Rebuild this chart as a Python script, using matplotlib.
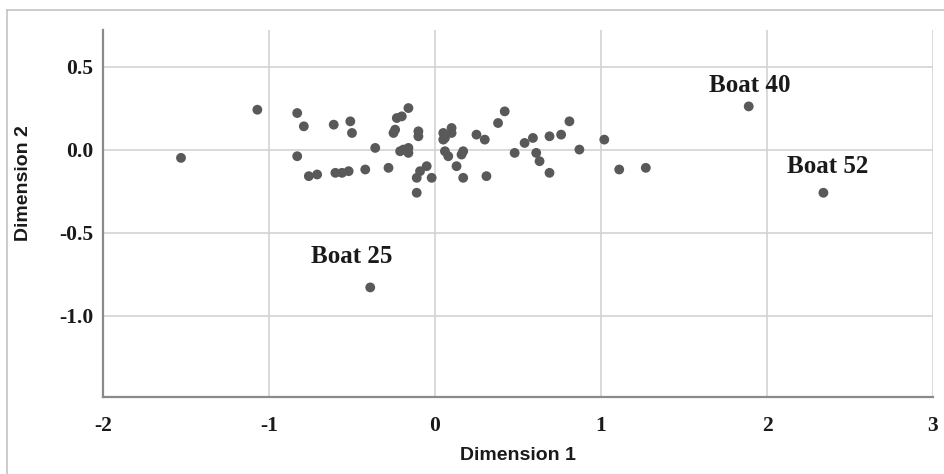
import matplotlib
matplotlib.use("Agg")
import matplotlib.pyplot as plt
from matplotlib.lines import Line2D

# coordinates
dim1 = [-1.53, -1.07, -0.83, -0.79, -0.83, -0.76, -0.71, -0.60, -0.56, -0.52,
        -0.42, -0.28, -0.61, -0.51, -0.50, -0.36, -0.23, -0.20, -0.24, -0.25,
        -0.16, -0.10, -0.10, -0.19, -0.16, -0.16, -0.21, -0.11, -0.11, -0.09,
        -0.05, -0.02, 0.05, 0.06, 0.10, 0.10, 0.05, 0.06, 0.08, 0.13,
        0.16, 0.17, 0.17, 0.25, 0.30, 0.31, 0.38, 0.42, 0.48, 0.54,
        0.59, 0.61, 0.63, 0.69, 0.69, 0.76, 0.81, 0.87, 1.02, 1.11,
        1.27, 1.89, 2.34, -0.39]
dim2 = [-0.05, 0.24, 0.22, 0.14, -0.04, -0.16, -0.15, -0.14, -0.14, -0.13,
        -0.12, -0.11, 0.15, 0.17, 0.10, 0.01, 0.19, 0.20, 0.12, 0.10,
        0.25, 0.11, 0.08, 0.00, 0.01, -0.02, -0.01, -0.26, -0.17, -0.13,
        -0.10, -0.17, 0.10, 0.07, 0.13, 0.10, 0.06, -0.01, -0.04, -0.10,
        -0.03, -0.01, -0.17, 0.09, 0.06, -0.16, 0.16, 0.23, -0.02, 0.04,
        0.07, -0.02, -0.07, -0.14, 0.08, 0.09, 0.17, 0.00, 0.06, -0.12,
        -0.11, 0.26, -0.26, -0.83]

labels = {"Boat 40": (1.89, 0.26), "Boat 52": (2.34, -0.26), "Boat 25": (-0.39, -0.83)}
label_offsets = {"Boat 40": (1, 15), "Boat 52": (3, 19), "Boat 25": (-13, 22)}

xticks = [-2, -1, 0, 1, 2, 3]
yticks = [-1.0, -0.5, 0.0, 0.5]

fig = plt.figure(figsize=(9.44, 4.74), dpi=100)
ax = fig.add_axes([0.1091, 0.1624, 0.8792, 0.7743])

ax.scatter(dim1, dim2, s=50, color='#595959', edgecolors='none', zorder=3)

for name, (x, y) in labels.items():
    ax.annotate(name, (x, y), xytext=label_offsets[name], textcoords='offset points',
                ha='center', va='center', fontsize=18, fontweight='bold',
                family='Liberation Serif', color='#1a1a1a')

ax.set_xlim(-2, 3)
ax.set_ylim(-1.49, 0.72)
ax.set_xticks(xticks)
ax.set_xticklabels([str(t) for t in xticks])
ax.set_yticks(yticks)
ax.set_yticklabels([f"{t:.1f}" for t in yticks])

ax.grid(True, color='#d3d3d3', linewidth=1.2, zorder=0)
ax.set_axisbelow(True)
for side in ['top', 'right']:
    ax.spines[side].set_visible(False)
for side in ['left', 'bottom']:
    ax.spines[side].set_color('#8a8a8a')
    ax.spines[side].set_linewidth(1.6)

ax.tick_params(axis='both', length=0, labelsize=15.5, labelcolor='#1a1a1a')
ax.tick_params(axis='x', pad=14)
ax.tick_params(axis='y', pad=7)
for lab in ax.get_xticklabels() + ax.get_yticklabels():
    lab.set_family('Liberation Serif')
    lab.set_fontweight('bold')

ax.set_xlabel("Dimension 1", fontsize=14, fontweight='bold', family='Liberation Sans', color='#1a1a1a')
ax.set_ylabel("Dimension 2", fontsize=14, fontweight='bold', family='Liberation Sans', color='#1a1a1a')
ax.xaxis.set_label_coords(0.5, -0.135)
ax.yaxis.set_label_coords(-0.085, 0.583)

# light outer frame
fig.add_artist(Line2D([0.0074, 0.0074], [0, 0.979], color='#c4c4c4', linewidth=1.2))
fig.add_artist(Line2D([0.0074, 1], [0.979, 0.979], color='#c4c4c4', linewidth=1.2))

fig.savefig("out.png", dpi=100)
